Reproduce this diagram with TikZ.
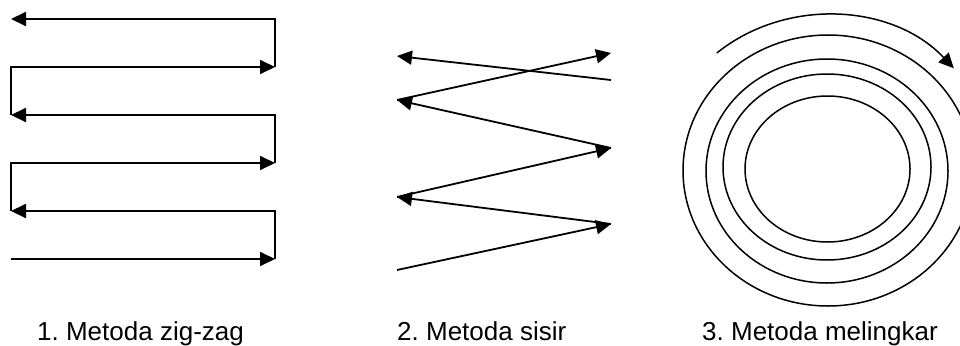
\documentclass[tikz,border=0pt]{standalone}
\usepackage{fontspec}
\setmainfont{Liberation Sans}
\usetikzlibrary{arrows.meta}
\frenchspacing
\begin{document}
\begin{tikzpicture}[x=1pt,y=-1pt,
  zz/.style={line width=1.8pt,line join=miter},
  tipped/.style={-{Triangle[length=15pt,width=14pt]}},
  ring/.style={line width=1.5pt},
  lbl/.style={anchor=base west,inner sep=0pt,font=\fontsize{26}{30}\selectfont}]
\clip (0,0) rectangle (960,345);
\fill[white] (0,0) rectangle (960,345);
% zig-zag
\coordinate (z0) at (11,259);
\coordinate (z1) at (275,259);
\coordinate (z2) at (275,211);
\coordinate (z3) at (11,211);
\coordinate (z4) at (11,163);
\coordinate (z5) at (275,163);
\coordinate (z6) at (275,115);
\coordinate (z7) at (11,115);
\coordinate (z8) at (11,67);
\coordinate (z9) at (275,67);
\coordinate (z10) at (275,19);
\coordinate (z11) at (11,19);
\draw[zz,tipped] (z0) -- (z1);
\draw[zz,tipped] (z1) -- (z2) -- (z3);
\draw[zz,tipped] (z3) -- (z4) -- (z5);
\draw[zz,tipped] (z5) -- (z6) -- (z7);
\draw[zz,tipped] (z7) -- (z8) -- (z9);
\draw[zz,tipped] (z9) -- (z10) -- (z11);
% sisir
\coordinate (s0) at (397,270);
\coordinate (s1) at (611,224);
\coordinate (s2) at (397,197);
\coordinate (s3) at (611,148);
\coordinate (s4) at (397,100);
\coordinate (s5) at (611,53);
\coordinate (s6) at (611,80);
\coordinate (s7) at (397,56);
\draw[zz,tipped] (s0) -- (s1);
\draw[zz,tipped] (s1) -- (s2);
\draw[zz,tipped] (s2) -- (s3);
\draw[zz,tipped] (s3) -- (s4);
\draw[zz,tipped] (s4) -- (s5);
\draw[zz,tipped] (s6) -- (s7);
% melingkar
\coordinate (c1) at (827.5,169);
\coordinate (c2) at (827,167);
\coordinate (c3) at (827,171);
\coordinate (c4) at (828,170.5);
\coordinate (ac) at (827,170);
\draw[ring] (c1) ellipse [x radius=82.5pt, y radius=73pt];
\draw[ring] (c2) ellipse [x radius=104pt, y radius=93pt];
\draw[ring] (c3) ellipse [x radius=121pt, y radius=112pt];
\draw[ring] (c4) ellipse [x radius=145pt, y radius=135.5pt];
\draw[ring,tipped] ([shift={(131:168pt and 155pt)}]ac) arc[start angle=131, end angle=41, x radius=168pt, y radius=155pt];
% labels
\node[lbl] (t1) at (37,340) {1. Metoda zig-zag};
\node[lbl] (t2) at (397,340) {2. Metoda sisir};
\node[lbl] (t3) at (702,340) {3. Metoda melingkar};
\end{tikzpicture}
\end{document}
